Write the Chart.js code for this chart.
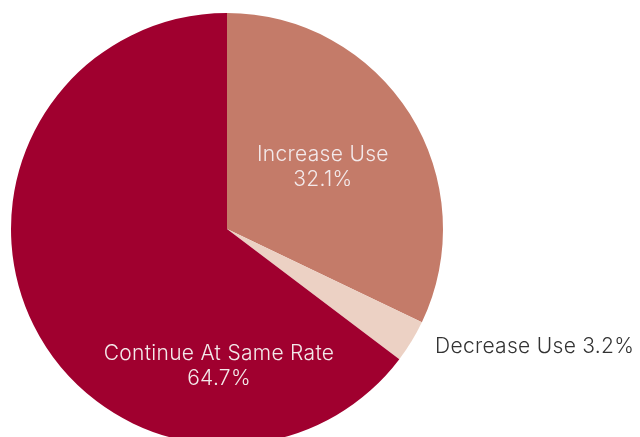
<!DOCTYPE html>
<html>
<head>
<meta charset="utf-8">
<script src="https://cdn.jsdelivr.net/npm/chart.js@4"></script>
<style>
html,body{margin:0;padding:0;background:#fff;overflow:hidden;width:640px;height:437px;}
#wrap{width:640px;height:460px;}
</style>
</head>
<body>
<div id="wrap"><canvas id="c" width="640" height="460"></canvas></div>
<script>
const categories = ["Increase Use", "Decrease Use", "Continue At Same Rate"];
const values = [32.1, 3.2, 64.7];
const colors = ["#C47B69", "#ECD1C4", "#A0002F"];

// label anchors as fractions of the pie radius, relative to the pie centre
const labelOffsets = [[0.444, -0.29], [0.963, 0.546], [-0.037, 0.634]];

const labelPlugin = {
  id: 'sliceLabels',
  afterDatasetsDraw(chart) {
    const ctx = chart.ctx;
    const meta = chart.getDatasetMeta(0);
    ctx.save();
    ctx.font = '300 21px Inter, "Open Sans", sans-serif';
    if ('letterSpacing' in ctx) ctx.letterSpacing = '0.3px';
    ctx.textBaseline = 'middle';
    meta.data.forEach((arc, i) => {
      const p = arc.getProps(['x','y','outerRadius'], true);
      const x = p.x + labelOffsets[i][0] * p.outerRadius;
      const y = p.y + labelOffsets[i][1] * p.outerRadius;
      const pct = values[i].toFixed(1) + '%';
      if (i === 1) {
        ctx.fillStyle = '#333333';
        ctx.textAlign = 'left';
        ctx.fillText(categories[i] + ' ' + pct, x, y);
      } else {
        ctx.fillStyle = '#F3E9EA';
        ctx.textAlign = 'center';
        ctx.fillText(categories[i], x, y - 12);
        ctx.fillText(pct, x, y + 13);
      }
    });
    ctx.restore();
  }
};

new Chart(document.getElementById('c'), {
  type: 'pie',
  data: {
    labels: categories,
    datasets: [{ data: values, backgroundColor: colors, borderWidth: 0, hoverOffset: 0 }]
  },
  options: {
    responsive: false,
    animation: false,
    layout: { padding: { left: 11, right: 197, top: 13, bottom: 15 } },
    plugins: { legend: { display: false }, tooltip: { enabled: false } }
  },
  plugins: [labelPlugin]
});
</script>
</body>
</html>
